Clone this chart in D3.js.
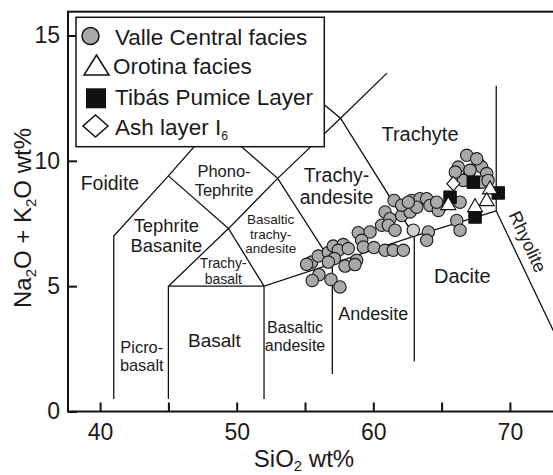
<!DOCTYPE html>
<html><head><meta charset="utf-8">
<script src="https://cdn.jsdelivr.net/npm/d3@7"></script>
<style>
body{margin:0;background:#fff}
svg{display:block}
text{font-family:"Liberation Sans",Arial,Helvetica,sans-serif;fill:#1a1a1a}
</style>
</head><body>
<svg id="c" width="553" height="475"></svg>
<script>
// ---------- data ----------
const valleSi  = [55.49,55.97,56.02,55.53,55.12,56.71,57.07,57.80,57.44,58.17,57.15,56.71,57.93,58.78,58.66,56.90,57.56,
                  58.90,59.76,59.15,59.27,60.05,60.86,61.46,62.20,60.61,
                  61.52,60.86,61.22,61.10,61.59,62.08,62.69,62.81,63.42,63.91,63.18,64.15,64.88,64.76,64.03,63.91,62.08,62.56,
                  66.84,66.22,67.69,67.94,68.30,66.95,67.08,67.57,66.59,67.94,68.40,66.35,66.11,66.35,64.64,66.00];
const valleAlk = [5.96,6.20,5.46,5.23,5.87,6.34,6.60,6.66,6.43,6.50,6.10,5.96,5.80,6.03,5.86,5.27,4.97,
                  7.13,7.16,6.83,6.56,6.54,6.43,6.43,6.43,7.43,
                  8.42,7.96,7.69,7.43,7.23,7.82,7.96,8.42,8.49,8.49,8.15,8.22,8.15,8.02,7.16,6.83,8.23,8.35,
                  10.22,9.75,9.88,9.75,9.49,9.35,9.62,10.08,9.22,9.15,9.22,8.35,7.62,7.23,8.35,9.55];
const valleLightSi  = [62.93];
const valleLightAlk = [7.23];
const orotinaSi  = [65.49,68.54,68.30,67.45];
const orotinaAlk = [8.26,8.89,8.42,8.18];
const tibasSi  = [67.32,65.62,69.15,67.45];
const tibasAlk = [9.15,8.55,8.72,7.76];
const ashSi  = [65.86];
const ashAlk = [9.09];

const xTicks = [40,45,50,55,60,65,70,75];
const xTickLabels = ["40","","50","","60","","70",""];
const yTicks = [0,5,10,15];
const yTickLabels = ["0","5","10","15"];

const legendNames = ["Valle Central facies","Orotina facies","Tibás Pumice Layer","Ash layer I"];

// TAS field boundaries (SiO2, Na2O+K2O)
const boundaries = [
  [[41,0.5],[41,7],[45,9.4],[48.4,11.5],[52.5,14]],
  [[45,0.5],[45,5],[49.4,7.3],[45,9.4]],
  [[45,5],[52,5]],
  [[52,0.5],[52,5],[57,5.9],[63,7],[69,8]],
  [[52,5],[49.4,7.3],[53,9.3]],
  [[48.4,11.5],[53,9.3],[57,5.9]],
  [[53,9.3],[57.6,11.7],[61,13.5]],
  [[52.5,14],[57.6,11.7],[63,7],[63,2]],
  [[57,5.9],[57,1.5]],
  [[69,13],[69,8],[76,0]]
];

// field names (layout annotations)
const fieldLabels = [
  {t:["Foidite"], x:40.72, y:9.10, s:19.5},
  {t:["Phono-","Tephrite"], x:49.07, y:9.20, s:16.5, lh:19},
  {t:["Tephrite","Basanite"], x:44.85, y:7.03, s:18.4, lh:20},
  {t:["Basaltic","trachy-","andesite"], x:52.49, y:7.08, s:13.5, lh:14.5},
  {t:["Trachy-","basalt"], x:49.02, y:5.59, s:14, lh:16},
  {t:["Basalt"], x:48.37, y:2.84, s:19},
  {t:["Picro-","basalt"], x:43.05, y:2.21, s:16.4, lh:18.3},
  {t:["Basaltic","andesite"], x:54.27, y:3.0, s:16, lh:18.3},
  {t:["Andesite"], x:60.0, y:3.92, s:18},
  {t:["Dacite"], x:66.52, y:5.43, s:20},
  {t:["Trachy-","andesite"], x:57.31, y:8.98, s:19.5, lh:22},
  {t:["Trachyte"], x:63.42, y:11.09, s:20},
  {t:["Rhyolite"], x:71.32, y:6.78, s:18, rot:65}
];

// ---------- drawing ----------
const svg = d3.select("#c");
const x = d3.scaleLinear().domain([40,70]).range([100.1,509.9]);
const y = d3.scaleLinear().domain([0,15]).range([411.5,35.5]);
const L = x(37.65), R = x(76.5), T = y(15.95), B = y(0);

svg.append("defs").append("clipPath").attr("id","clip")
  .append("rect").attr("x",L).attr("y",T).attr("width",R-L).attr("height",B-T);
const plot = svg.append("g").attr("clip-path","url(#clip)");

const line = d3.line().x(d=>x(d[0])).y(d=>y(d[1]));
plot.selectAll("path.b").data(boundaries).join("path").attr("class","b")
  .attr("d",line).attr("fill","none").attr("stroke","#111").attr("stroke-width",1.3)
  .attr("stroke-linejoin","miter");

// field labels
fieldLabels.forEach(f=>{
  const lh = f.lh||0;
  const t = plot.append("text")
    .attr("text-anchor","middle")
    .attr("font-size",f.s)
    .attr("transform",`translate(${x(f.x)},${y(f.y)})` + (f.rot?` rotate(${f.rot})`:""));
  const n = f.t.length;
  f.t.forEach((s,i)=>{
    t.append("tspan").attr("x",0).attr("y",(i-(n-1)/2)*lh + f.s*0.36).text(s);
  });
});

// points
const gray = "#a9a9a9";
const pts = plot.append("g");
pts.selectAll("circle.v").data(d3.zip(valleSi,valleAlk)).join("circle").attr("class","v")
  .attr("cx",d=>x(d[0])).attr("cy",d=>y(d[1])).attr("r",6.2)
  .attr("fill",gray).attr("stroke","#1a1a1a").attr("stroke-width",1.1);
pts.selectAll("circle.vl").data(d3.zip(valleLightSi,valleLightAlk)).join("circle").attr("class","vl")
  .attr("cx",d=>x(d[0])).attr("cy",d=>y(d[1])).attr("r",6.2)
  .attr("fill","#cfcfcf").attr("stroke","#1a1a1a").attr("stroke-width",1.1);

function tri(w,h){return `M0,${-h*0.6}L${w/2},${h*0.4}L${-w/2},${h*0.4}Z`;}
function sq(a){return `M${-a/2},${-a/2}h${a}v${a}h${-a}Z`;}
function dia(w,h){return `M0,${-h/2}L${w/2},0L0,${h/2}L${-w/2},0Z`;}

pts.selectAll("path.s").data(d3.zip(tibasSi,tibasAlk)).join("path").attr("class","s")
  .attr("transform",d=>`translate(${x(d[0])},${y(d[1])})`).attr("d",sq(12.5))
  .attr("fill","#111").attr("stroke","#111").attr("stroke-width",1);
pts.selectAll("path.t").data(d3.zip(orotinaSi,orotinaAlk)).join("path").attr("class","t")
  .attr("transform",d=>`translate(${x(d[0])},${y(d[1])})`).attr("d",tri(15,13))
  .attr("fill","#fff").attr("stroke","#111").attr("stroke-width",1.1);
pts.selectAll("path.d").data(d3.zip(ashSi,ashAlk)).join("path").attr("class","d")
  .attr("transform",d=>`translate(${x(d[0])},${y(d[1])})`).attr("d",dia(13,14))
  .attr("fill","#fff").attr("stroke","#111").attr("stroke-width",1.1);

// frame
svg.append("rect").attr("x",L).attr("y",T).attr("width",R-L).attr("height",B-T)
  .attr("fill","none").attr("stroke","#111").attr("stroke-width",2);

// axes
const xa = svg.append("g").attr("transform",`translate(0,${B})`)
  .call(d3.axisBottom(x).tickValues(xTicks).tickSize(-9).tickSizeOuter(0).tickPadding(12)
        .tickFormat((d,i)=>xTickLabels[i]));
xa.select(".domain").remove();
const ya = svg.append("g").attr("transform",`translate(${L},0)`)
  .call(d3.axisLeft(y).tickValues(yTicks).tickSize(-9).tickSizeOuter(0).tickPadding(8)
        .tickFormat((d,i)=>yTickLabels[i]));
ya.select(".domain").remove();
svg.selectAll(".tick line").attr("stroke","#111").attr("stroke-width",2);
svg.selectAll(".tick text").attr("font-size",23).attr("font-family","Liberation Sans, Arial, sans-serif").attr("fill","#1a1a1a");

// axis titles
const xt = svg.append("text").attr("x",304).attr("y",467).attr("text-anchor","middle").attr("font-size",24);
xt.append("tspan").text("SiO");
xt.append("tspan").attr("font-size",15).attr("dy",4).text("2");
xt.append("tspan").attr("dy",-4).text(" wt%");

const yt = svg.append("text").attr("transform","translate(31,218) rotate(-90)").attr("text-anchor","middle").attr("font-size",24);
yt.append("tspan").text("Na");
yt.append("tspan").attr("font-size",15).attr("dy",5).text("2");
yt.append("tspan").attr("dy",-5).text("O + K");
yt.append("tspan").attr("font-size",15).attr("dy",5).text("2");
yt.append("tspan").attr("dy",-5).text("O wt%");

// legend
const lg = svg.append("g");
lg.append("rect").attr("x",76).attr("y",17.3).attr("width",248.3).attr("height",129.4)
  .attr("fill","#fff").attr("stroke","#111").attr("stroke-width",1.5);
const rows = [45,73.5,105,135];
lg.append("circle").attr("cx",90.5).attr("cy",36).attr("r",8.5).attr("fill",gray).attr("stroke","#111").attr("stroke-width",1.5);
lg.append("path").attr("transform","translate(96.5,67)").attr("d",tri(25,20)).attr("fill","#fff").attr("stroke","#111").attr("stroke-width",1.5);
lg.append("path").attr("transform","translate(96,98.3)").attr("d",sq(20)).attr("fill","#111");
lg.append("path").attr("transform","translate(95.5,126)").attr("d",dia(25,22)).attr("fill","#fff").attr("stroke","#111").attr("stroke-width",1.5);
legendNames.forEach((n,i)=>{
  const t = lg.append("text").attr("x", i===1?113:115).attr("y",rows[i]).attr("font-size",22.5).text(n);
  if(i===3) t.append("tspan").attr("font-size",12).attr("dy",5).text("6");
});
</script>
</body></html>
